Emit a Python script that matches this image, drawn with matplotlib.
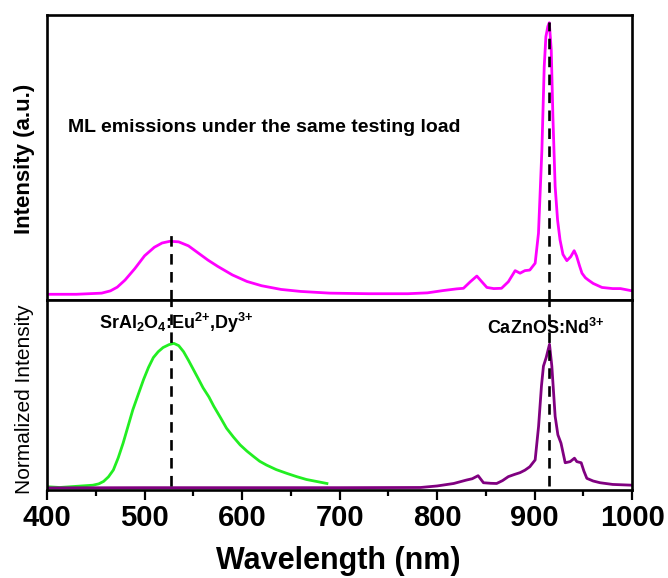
import numpy as np
import matplotlib
matplotlib.use("Agg")
import matplotlib.pyplot as plt
from matplotlib.ticker import MultipleLocator

plt.rcParams['font.family'] = ['Liberation Sans', 'DejaVu Sans']
plt.rcParams['mathtext.fontset'] = 'custom'
plt.rcParams['mathtext.rm'] = 'Liberation Sans'
plt.rcParams['mathtext.bf'] = 'Liberation Sans:bold'

## data
# upper panel: ML emission (magenta)
mag_nm = [400, 430, 456, 465, 472, 480, 490, 500, 510, 518, 526, 535, 545, 555, 565,
          575, 590, 605, 620, 640, 660, 690, 730, 770, 790, 806, 820, 827, 834, 840.7,
          845.8, 851, 858, 866, 873, 880, 885, 890, 895, 900.5, 903.9, 907.4, 909.8,
          911.5, 913.5, 915, 917, 918.7, 921, 923.5, 926, 929, 933, 937, 940.5, 943,
          946, 948.5, 952, 955, 960, 969, 980, 988, 1000]
mag_val = [0.02, 0.02, 0.024, 0.032, 0.045, 0.07, 0.11, 0.155, 0.185, 0.2, 0.206, 0.204,
           0.19, 0.165, 0.14, 0.118, 0.088, 0.065, 0.05, 0.037, 0.03, 0.024, 0.022, 0.022,
           0.025, 0.033, 0.039, 0.041, 0.064, 0.084, 0.064, 0.044, 0.04, 0.041, 0.064,
           0.103, 0.094, 0.103, 0.105, 0.129, 0.234, 0.526, 0.819, 0.924, 0.96, 0.973,
           0.877, 0.643, 0.398, 0.28, 0.211, 0.16, 0.138, 0.152, 0.173, 0.154, 0.12,
           0.094, 0.078, 0.07, 0.058, 0.044, 0.04, 0.04, 0.032]

# lower panel: normalized spectra
grn_nm = [400, 413, 430, 447, 453, 458, 463, 468, 473, 478, 483, 488, 494, 499, 504,
          509, 514, 519, 525, 530, 535, 540, 545, 550, 555, 560, 566, 571, 578, 584,
          591, 598, 605, 612, 618, 625, 635, 646, 656, 666, 677, 687]
grn_val = [0.018, 0.014, 0.02, 0.026, 0.033, 0.046, 0.07, 0.106, 0.17, 0.247, 0.335,
           0.423, 0.51, 0.582, 0.645, 0.697, 0.728, 0.75, 0.765, 0.772, 0.76, 0.728,
           0.683, 0.635, 0.587, 0.538, 0.49, 0.441, 0.38, 0.326, 0.28, 0.238, 0.205,
           0.176, 0.152, 0.132, 0.108, 0.088, 0.071, 0.056, 0.045, 0.035]

pur_nm = [400, 500, 600, 700, 783, 800, 817, 830, 836, 842, 847.5, 855, 861, 867, 873,
          879, 885, 890, 895, 900.5, 904, 907, 909, 911.8, 915.2, 917.6, 921, 923.8, 927,
          931.3, 936.4, 940.8, 943.2, 947.7, 950.5, 953.5, 960, 967, 980, 1000]
pur_val = [0.012, 0.013, 0.013, 0.013, 0.014, 0.022, 0.035, 0.053, 0.06, 0.076, 0.039,
           0.036, 0.035, 0.05, 0.071, 0.082, 0.092, 0.105, 0.123, 0.159, 0.335, 0.55,
           0.652, 0.697, 0.767, 0.652, 0.388, 0.291, 0.247, 0.144, 0.15, 0.168, 0.15,
           0.144, 0.1, 0.062, 0.048, 0.039, 0.03, 0.026]

peak_sr = 527
peak_ca = 915

## figure
fig = plt.figure(figsize=(6.68, 5.78), dpi=100)
ax1 = fig.add_axes([0.0704, 0.481, 0.876, 0.493])
ax2 = fig.add_axes([0.0704, 0.152, 0.876, 0.329])

dash = dict(color='black', lw=1.9, dashes=(4, 2.8), zorder=5)

# upper panel
ax1.plot(mag_nm, mag_val, color='#ff00ff', lw=2.0)
ax1.plot([peak_sr, peak_sr], [0, 0.24], **dash)
ax1.plot([peak_ca, peak_ca], [0, 0.975], **dash)
ax1.set_xlim(400, 1000)
ax1.set_ylim(0, 1)
ax1.set_xticks([])
ax1.set_yticks([])
ax1.text(421.5, 0.604, 'ML emissions under the same testing load',
         fontsize=14, fontweight='bold', ha='left', va='center')

# lower panel
ax2.plot(grn_nm, grn_val, color='#22ee22', lw=2.0)
ax2.plot(pur_nm, pur_val, color='#800080', lw=2.0)
ax2.plot([peak_sr, peak_sr], [0.02, 1], **dash)
ax2.plot([peak_ca, peak_ca], [0.02, 1], **dash)
ax2.set_xlim(400, 1000)
ax2.set_ylim(0, 1)
ax2.set_yticks([])
ax2.xaxis.set_major_locator(MultipleLocator(100))
ax2.xaxis.set_minor_locator(MultipleLocator(50))
ax2.tick_params(axis='x', which='major', direction='out', length=7, width=1.6,
                labelsize=21, pad=3)
ax2.tick_params(axis='x', which='minor', direction='out', length=4, width=1.6)
for lab in ax2.get_xticklabels():
    lab.set_fontweight('bold')

ax2.text(453.6, 0.847,
         r'SrAl$_{\mathbf{2}}$O$_{\mathbf{4}}$:Eu$^{\mathbf{2{+}}}$,Dy$^{\mathbf{3{+}}}$',
         fontsize=13, fontweight='bold', ha='left', va='baseline', zorder=6)
ax2.text(851, 0.82, r'CaZnOS:Nd$^{\mathbf{3{+}}}$', fontsize=13, fontweight='bold',
         ha='left', va='baseline', zorder=6)

for ax in (ax1, ax2):
    for sp in ax.spines.values():
        sp.set_linewidth(1.9)

fig.text(0.036, 0.725, 'Intensity (a.u.)', rotation=90, fontsize=16,
         fontweight='bold', ha='center', va='center')
fig.text(0.036, 0.31, 'Normalized Intensity', rotation=90, fontsize=15,
         ha='center', va='center')
fig.text(0.506, 0.029, 'Wavelength (nm)', fontsize=22, fontweight='bold',
         ha='center', va='center')

fig.savefig('out.png', dpi=100)
